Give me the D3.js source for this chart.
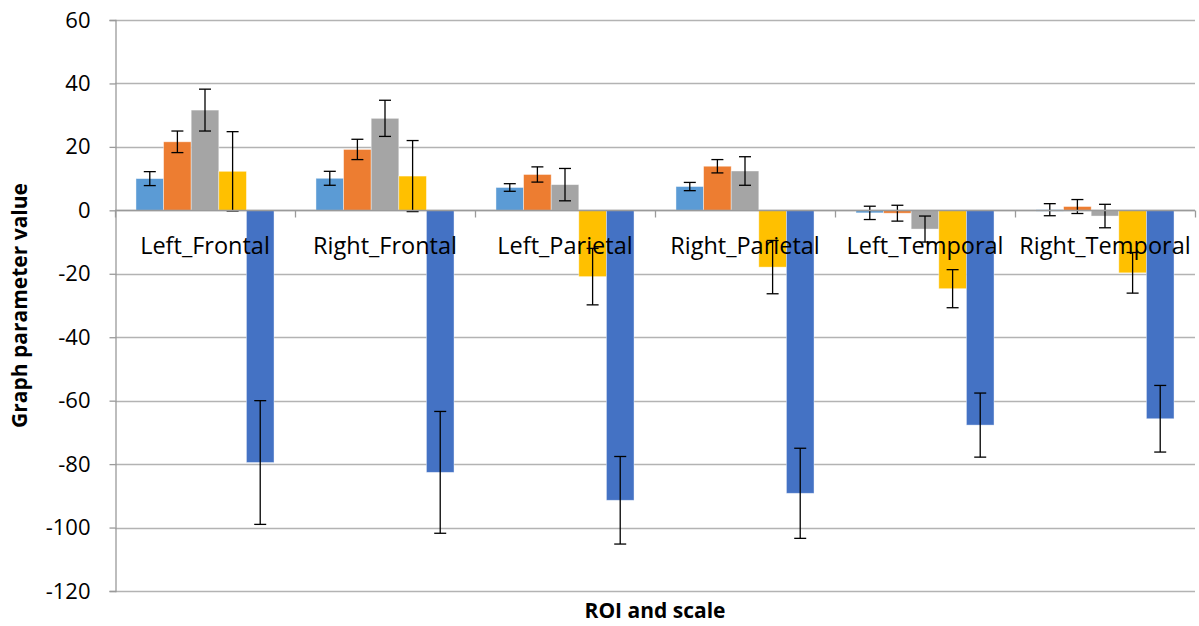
<!DOCTYPE html>
<html>
<head>
<meta charset="utf-8">
<script src="https://cdn.jsdelivr.net/npm/d3@7"></script>
<style>
  html, body { margin: 0; padding: 0; background: #fff; }
  svg { display: block; }
  text { font-family: "Open Sans", "Liberation Sans", sans-serif; }
</style>
</head>
<body>
<svg id="chart" width="1199" height="626"></svg>
<script>
const categories = ["Left_Frontal", "Right_Frontal", "Left_Parietal", "Right_Parietal", "Left_Temporal", "Right_Temporal"];
const seriesNames = ["S1", "S2", "S3", "S4", "S5"];
const seriesColors = ["#5B9BD5", "#ED7D31", "#A5A5A5", "#FFC000", "#4472C4"];
const s1Values = [10.0, 10.1, 7.2, 7.5, -0.8, 0.2];
const s1Errors = [2.2, 2.2, 1.2, 1.3, 2.1, 1.9];
const s2Values = [21.6, 19.2, 11.3, 13.9, -0.9, 1.2];
const s2Errors = [3.4, 3.2, 2.4, 2.1, 2.5, 2.2];
const s3Values = [31.6, 29.0, 8.1, 12.4, -5.9, -1.8];
const s3Errors = [6.6, 5.7, 5.1, 4.5, 4.1, 3.7];
const s4Values = [12.3, 10.8, -20.9, -17.9, -24.7, -19.7];
const s4Errors = [12.5, 11.2, 8.9, 8.4, 6.0, 6.4];
const s5Values = [-79.5, -82.6, -91.4, -89.2, -67.7, -65.7];
const s5Errors = [19.5, 19.2, 13.8, 14.2, 10.1, 10.5];
const yTicks = [60, 40, 20, 0, -20, -40, -60, -80, -100, -120];
const yTitle = "Graph parameter value";
const xTitle = "ROI and scale";

const allValues = [s1Values, s2Values, s3Values, s4Values, s5Values];
const allErrors = [s1Errors, s2Errors, s3Errors, s4Errors, s5Errors];

const svg = d3.select("#chart");
const mLeft = 115, mRight = 1195, mTop = 20, mBottom = 591;

const y = d3.scaleLinear().domain([-120, 60]).range([mBottom, mTop]);
const x0 = d3.scaleBand().domain(categories).range([mLeft, mRight]).paddingInner(0).paddingOuter(0);
const x1 = d3.scaleBand().domain(seriesNames).range([0, x0.bandwidth()]).paddingInner(0).paddingOuter(0.76);

// gridlines
svg.append("g").selectAll("line").data(yTicks).join("line")
  .attr("x1", mLeft).attr("x2", mRight)
  .attr("y1", d => Math.round(y(d)) + 0.5).attr("y2", d => Math.round(y(d)) + 0.5)
  .attr("stroke", "#b3b3b3").attr("stroke-width", 1.3);

// y axis
const yAxis = svg.append("g").attr("transform", `translate(${mLeft + 0.5},0)`)
  .call(d3.axisLeft(y).tickValues(yTicks).tickSize(6).tickPadding(19).tickFormat(d => String(d)));
yAxis.select(".domain").attr("stroke", "#9a9a9a").attr("stroke-width", 1.3);
yAxis.selectAll(".tick line").attr("stroke", "#9a9a9a").attr("stroke-width", 1.3);
yAxis.selectAll(".tick text").attr("font-size", 22).attr("fill", "#000")
  .style("font-family", '"Open Sans", "Liberation Sans", sans-serif');

// bars
const groups = svg.append("g").selectAll("g").data(categories).join("g")
  .attr("transform", d => `translate(${x0(d)},0)`);

const barData = (c, ci) => seriesNames.map((s, si) => ({
  s, si, v: allValues[si][ci], e: allErrors[si][ci]
}));

groups.each(function(c, ci) {
  const g = d3.select(this);
  const data = barData(c, ci);
  g.selectAll("rect").data(data).join("rect")
    .attr("x", d => x1(d.s))
    .attr("width", x1.bandwidth())
    .attr("y", d => Math.min(y(d.v), y(0)))
    .attr("height", d => Math.max(Math.abs(y(d.v) - y(0)), 1.5))
    .attr("fill", d => seriesColors[d.si])
    .attr("stroke", "#ffffff").attr("stroke-opacity", 0.5).attr("stroke-width", 0.8);
});

// x axis line at zero with ticks
const xAxis = svg.append("g").attr("transform", `translate(0,${Math.round(y(0)) + 0.5})`);
xAxis.append("line").attr("x1", mLeft).attr("x2", mRight).attr("stroke", "#9a9a9a").attr("stroke-width", 1.3);
const boundaries = categories.map(c => x0(c)).concat([mRight]);
xAxis.selectAll("line.tk").data(boundaries).join("line").attr("class", "tk")
  .attr("x1", d => Math.round(d) + 0.5).attr("x2", d => Math.round(d) + 0.5)
  .attr("y1", 0).attr("y2", 7).attr("stroke", "#9a9a9a").attr("stroke-width", 1.3);

// error bars (drawn over)
groups.each(function(c, ci) {
  const g = d3.select(this);
  const data = barData(c, ci);
  const eb = g.selectAll("g.eb").data(data).join("g").attr("class", "eb");
  eb.append("line")
    .attr("x1", d => x1(d.s) + x1.bandwidth() / 2).attr("x2", d => x1(d.s) + x1.bandwidth() / 2)
    .attr("y1", d => y(d.v + d.e)).attr("y2", d => y(d.v - d.e))
    .attr("stroke", "#000").attr("stroke-width", 1.3);
  [1, -1].forEach(sign => {
    eb.append("line")
      .attr("x1", d => x1(d.s) + x1.bandwidth() / 2 - 6).attr("x2", d => x1(d.s) + x1.bandwidth() / 2 + 6)
      .attr("y1", d => y(d.v + sign * d.e)).attr("y2", d => y(d.v + sign * d.e))
      .attr("stroke", "#000").attr("stroke-width", 1.3);
  });
});

// category labels (on top of bars)
svg.append("g").selectAll("text").data(categories).join("text")
  .attr("x", d => x0(d) + x0.bandwidth() / 2)
  .attr("y", y(0) + 44)
  .attr("text-anchor", "middle")
  .attr("font-size", 23.5).attr("fill", "#000")
  .text(d => d);

// axis titles
svg.append("text")
  .attr("transform", `translate(27,${(mTop + mBottom) / 2}) rotate(-90)`)
  .attr("text-anchor", "middle")
  .attr("font-size", 21).attr("font-weight", "bold").attr("fill", "#000")
  .text(yTitle);

svg.append("text")
  .attr("x", (mLeft + mRight) / 2).attr("y", 618)
  .attr("text-anchor", "middle")
  .attr("font-size", 21).attr("font-weight", "bold").attr("fill", "#000")
  .text(xTitle);
</script>
</body>
</html>
